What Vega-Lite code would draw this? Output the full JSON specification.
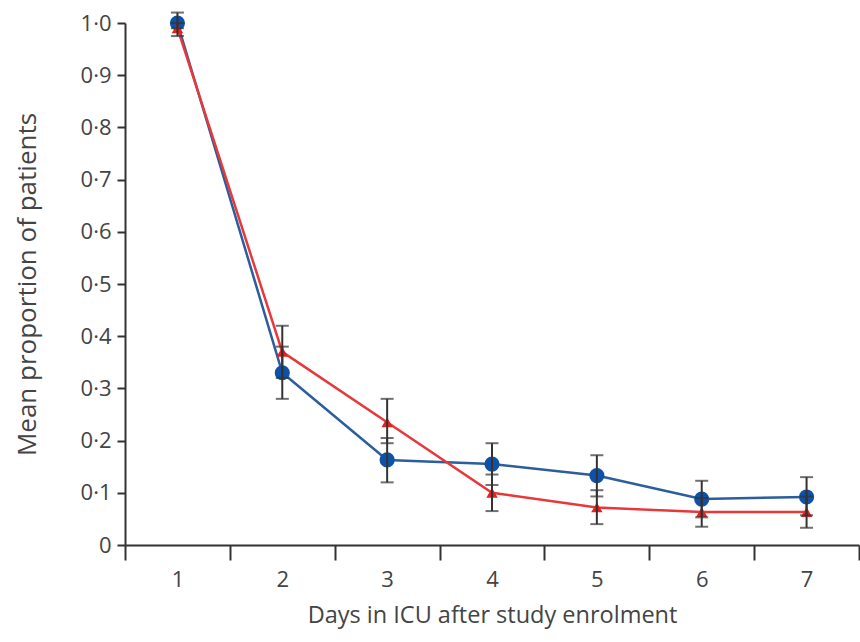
{
  "$schema": "https://vega.github.io/schema/vega-lite/v6.json",
  "autosize": {"type": "none"},
  "width": 734,
  "height": 522,
  "padding": {"left": 125, "top": 23, "right": 1, "bottom": 97},
  "background": "white",
  "config": {
    "view": {"stroke": null},
    "font": "Open Sans",
    "locale": {"number": {"decimal": "·", "thousands": ",", "grouping": [3], "currency": ["", ""]}},
    "axis": {"labelFont": "Open Sans", "titleFont": "Open Sans", "labelColor": "#444", "titleColor": "#444", "domainColor": "#333", "tickColor": "#333", "grid": false, "titleFontWeight": "normal", "domainWidth": 2, "tickWidth": 2, "labelFlush": false, "labelOverlap": false}
  },
  "data": {"values": [
    {"day": 1, "group": "Group A", "mean": 1.0, "lo": 0.99, "hi": 1.02},
    {"day": 2, "group": "Group A", "mean": 0.33, "lo": 0.28, "hi": 0.38},
    {"day": 3, "group": "Group A", "mean": 0.163, "lo": 0.12, "hi": 0.205},
    {"day": 4, "group": "Group A", "mean": 0.155, "lo": 0.115, "hi": 0.195},
    {"day": 5, "group": "Group A", "mean": 0.133, "lo": 0.093, "hi": 0.172},
    {"day": 6, "group": "Group A", "mean": 0.088, "lo": 0.053, "hi": 0.123},
    {"day": 7, "group": "Group A", "mean": 0.092, "lo": 0.057, "hi": 0.13},
    {"day": 1, "group": "Group B", "mean": 0.99, "lo": 0.975, "hi": 1.0},
    {"day": 2, "group": "Group B", "mean": 0.37, "lo": 0.32, "hi": 0.42},
    {"day": 3, "group": "Group B", "mean": 0.235, "lo": 0.195, "hi": 0.28},
    {"day": 4, "group": "Group B", "mean": 0.1, "lo": 0.065, "hi": 0.135},
    {"day": 5, "group": "Group B", "mean": 0.072, "lo": 0.04, "hi": 0.105},
    {"day": 6, "group": "Group B", "mean": 0.063, "lo": 0.035, "hi": 0.09},
    {"day": 7, "group": "Group B", "mean": 0.063, "lo": 0.033, "hi": 0.093}
  ]},
  "layer": [
    {
      "mark": {"type": "line", "strokeWidth": 2.5},
      "encoding": {
        "x": {"field": "day", "type": "quantitative",
          "scale": {"domain": [0.5, 7.5], "nice": false, "zero": false},
          "axis": {"orient": "bottom", "title": null, "values": [0.5, 1.5, 2.5, 3.5, 4.5, 5.5, 6.5, 7.5], "labels": false, "tickSize": 15}},
        "y": {"field": "mean", "type": "quantitative",
          "scale": {"domain": [0, 1], "nice": false},
          "axis": {"orient": "left", "title": "Mean proportion of patients", "values": [0.1, 0.2, 0.3, 0.4, 0.5, 0.6, 0.7, 0.8, 0.9, 1.0], "format": ".1f",
            "tickSize": 8, "labelPadding": 6, "labelFontSize": 22, "titleFontSize": 26, "titlePadding": 40}},
        "color": {"field": "group", "type": "nominal", "scale": {"domain": ["Group A", "Group B"], "range": ["#2c5d9e", "#e8383a"]}, "legend": null}
      }
    },
    {
      "mark": {"type": "point", "filled": true, "opacity": 1},
      "encoding": {
        "x": {"field": "day", "type": "quantitative",
          "axis": {"orient": "bottom", "title": "Days in ICU after study enrolment", "values": [1, 2, 3, 4, 5, 6, 7], "format": "d",
            "ticks": false, "tickSize": 0, "domain": false, "labelPadding": 24, "labelFontSize": 22, "titleFontSize": 23.5, "titlePadding": 13}},
        "y": {"field": "mean", "type": "quantitative",
          "axis": {"orient": "left", "title": null, "values": [0], "format": "d", "domain": false, "tickSize": 8, "labelPadding": 6, "labelFontSize": 22}},
        "color": {"field": "group", "type": "nominal", "scale": {"domain": ["Group A", "Group B"], "range": ["#0f51a6", "#e8201d"]}, "legend": null},
        "shape": {"field": "group", "type": "nominal", "scale": {"domain": ["Group A", "Group B"], "range": ["circle", "triangle-up"]}, "legend": null},
        "size": {"field": "group", "type": "nominal", "scale": {"domain": ["Group A", "Group B"], "range": [230, 130]}, "legend": null}
      }
    },
    {
      "mark": {"type": "rule", "color": "#333", "strokeWidth": 2},
      "encoding": {
        "x": {"field": "day", "type": "quantitative", "axis": null},
        "y": {"field": "lo", "type": "quantitative", "axis": null},
        "y2": {"field": "hi"}
      }
    },
    {
      "mark": {"type": "tick", "color": "#333", "orient": "horizontal", "size": 13, "thickness": 2},
      "encoding": {
        "x": {"field": "day", "type": "quantitative", "axis": null},
        "y": {"field": "lo", "type": "quantitative", "axis": null}
      }
    },
    {
      "mark": {"type": "tick", "color": "#333", "orient": "horizontal", "size": 13, "thickness": 2},
      "encoding": {
        "x": {"field": "day", "type": "quantitative", "axis": null},
        "y": {"field": "hi", "type": "quantitative", "axis": null}
      }
    }
  ],
  "resolve": {"scale": {"color": "independent"}, "axis": {"x": "independent", "y": "independent"}}
}
